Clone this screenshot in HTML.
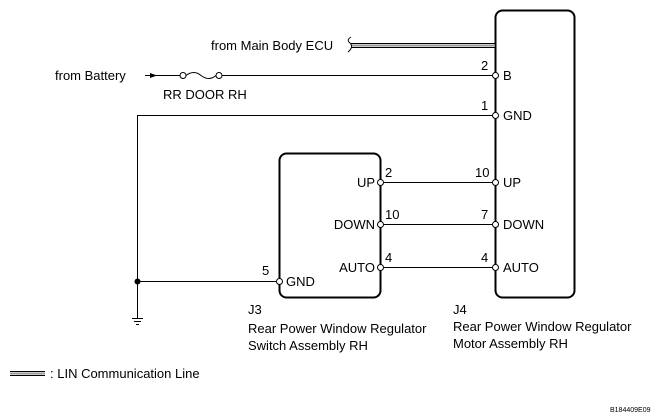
<!DOCTYPE html>
<html><head><style>body{margin:0;background:#fff}svg{display:block}text{font-family:"Liberation Sans",sans-serif;fill:#000}</style></head><body>
<svg width="670" height="420" viewBox="0 0 670 420" xmlns="http://www.w3.org/2000/svg">
<g fill="none" stroke="#000">
<rect x="495.5" y="10.5" width="79" height="287" rx="7" stroke-width="2"/>
<rect x="279.5" y="153.5" width="101" height="144" rx="7" stroke-width="2"/>
<line x1="351" y1="43.5" x2="495" y2="43.5" stroke-width="1"/>
<line x1="351" y1="45.5" x2="495" y2="45.5" stroke="#999" stroke-width="2"/>
<line x1="351" y1="47.5" x2="495" y2="47.5" stroke-width="1"/>
<path d="M351 37 q-5 3 -1 6 q4 4 -2 9" stroke-width="1"/>
<line x1="145" y1="75.5" x2="180" y2="75.5" stroke-width="1"/>
<path d="M186 75.5 q8 -6 15 0 q8 6 15 0" stroke-width="1"/>
<line x1="222" y1="75.5" x2="492" y2="75.5" stroke-width="1"/>
<circle cx="183" cy="75.5" r="3" fill="#fff"/>
<circle cx="219" cy="75.5" r="3" fill="#fff"/>
<polyline points="492,115.5 137.5,115.5 137.5,318" stroke-width="1"/>
<line x1="137" y1="281.5" x2="276" y2="281.5" stroke-width="1"/>
<line x1="132" y1="318.5" x2="143" y2="318.5"/>
<line x1="134" y1="321.5" x2="141" y2="321.5"/>
<line x1="136" y1="324.5" x2="139" y2="324.5"/>
<line x1="384" y1="182.5" x2="492" y2="182.5"/>
<line x1="384" y1="224.5" x2="492" y2="224.5"/>
<line x1="384" y1="267.5" x2="492" y2="267.5"/>
<g fill="#fff" stroke-width="1">
<circle cx="495.5" cy="75.5" r="3"/><circle cx="495.5" cy="115.5" r="3"/>
<circle cx="495.5" cy="182.5" r="3"/><circle cx="495.5" cy="224.5" r="3"/><circle cx="495.5" cy="267.5" r="3"/>
<circle cx="380.5" cy="182.5" r="3"/><circle cx="380.5" cy="224.5" r="3"/><circle cx="380.5" cy="267.5" r="3"/>
<circle cx="279.5" cy="281.5" r="3"/>
</g>
<line x1="10" y1="371.5" x2="45" y2="371.5"/>
<line x1="10" y1="373.5" x2="45" y2="373.5" stroke="#999" stroke-width="2"/>
<line x1="10" y1="375.5" x2="45" y2="375.5"/>
</g>
<circle cx="137.5" cy="281.5" r="3" fill="#000"/>
<path d="M157 75.5 l-7 -2.5 v5 z" fill="#000"/>
<g font-size="13">
<text x="211" y="50">from Main Body ECU</text>
<text x="55" y="80">from Battery</text>
<text x="163" y="99">RR DOOR RH</text>
<text x="481" y="70">2</text><text x="503" y="80">B</text>
<text x="481" y="110">1</text><text x="503" y="120">GND</text>
<text x="475" y="177">10</text><text x="503" y="187">UP</text>
<text x="481" y="219">7</text><text x="503" y="229">DOWN</text>
<text x="481" y="262">4</text><text x="503" y="272">AUTO</text>
<text x="385" y="177">2</text><text x="375" y="187" text-anchor="end">UP</text>
<text x="385" y="219">10</text><text x="375" y="229" text-anchor="end">DOWN</text>
<text x="385" y="262">4</text><text x="375" y="272" text-anchor="end">AUTO</text>
<text x="262" y="275">5</text><text x="286" y="286">GND</text>
<text x="248" y="314">J3</text>
<text x="248" y="333">Rear Power Window Regulator</text>
<text x="248" y="350">Switch Assembly RH</text>
<text x="453" y="314">J4</text>
<text x="453" y="331">Rear Power Window Regulator</text>
<text x="453" y="348">Motor Assembly RH</text>
<text x="50" y="378">: LIN Communication Line</text>
</g>
<text x="610" y="412" font-size="7">B184409E09</text>
</svg>
</body></html>
